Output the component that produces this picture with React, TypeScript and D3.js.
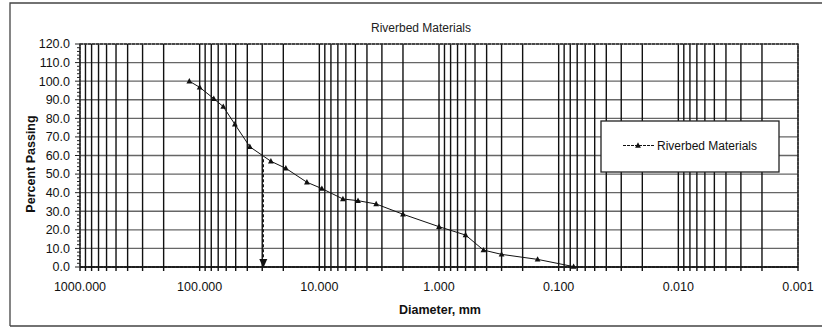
import React from "react";
import * as d3 from "d3";

const diameters = [122, 100, 76.2, 63.5, 50.8, 38.1, 25.4, 19.05, 12.7, 9.525, 6.35, 4.75, 3.35, 2.0, 1.0, 0.6, 0.425, 0.3, 0.15, 0.075];
const percentPassing = [100, 96.7, 90.6, 86.3, 76.8, 64.7, 56.9, 53.1, 45.6, 42.2, 36.6, 35.7, 33.9, 28.4, 21.7, 17.2, 9.1, 6.8, 4.1, 0.2];
const xTickValues = [1000, 100, 10, 1, 0.1, 0.01, 0.001];
const xTickLabels = ["1000.000", "100.000", "10.000", "1.000", "0.100", "0.010", "0.001"];
const yTickValues = [0, 10, 20, 30, 40, 50, 60, 70, 80, 90, 100, 110, 120];
const arrowDiameter = [29.4];
const arrowPercent = [58];
const title = "Riverbed Materials";
const seriesName = "Riverbed Materials";
const xTitle = "Diameter, mm";
const yTitle = "Percent Passing";

const W = 822, H = 329;
const L = 80, R = 798, T = 44, B = 267;
const FONT = "'Liberation Sans', Arial, sans-serif";

export default function App() {
  const x = d3.scaleLog().domain([1000, 0.001]).range([L, R]);
  const y = d3.scaleLinear().domain([0, 120]).range([B, T]);

  const minor: number[] = [];
  for (let e = -3; e < 3; e++) {
    for (let m = 1; m <= 9; m++) minor.push(m * Math.pow(10, e));
  }
  minor.push(1000);
  const yMinor = d3.range(0, 121, 2);

  const line = d3.line<number>()
    .x((_, i) => x(diameters[i]))
    .y((d) => y(d));

  const tri = (cx: number, cy: number, s: number) =>
    `M${cx},${cy - s}L${cx + s * 0.9},${cy + s * 0.7}L${cx - s * 0.9},${cy + s * 0.7}Z`;

  const ax = x(arrowDiameter[0]);
  const ay = y(arrowPercent[0]);

  return (
    <svg width={W} height={H} style={{ position: "absolute", left: 0, top: 0, background: "#fff" }} fontFamily={FONT}>
      <rect x={W * 0} y={0} width={W} height={H} fill="#fff" />
      {/* outer frame */}
      <path d={`M10,326 L10,3 L830,3 M10,326 L830,326`} fill="none" stroke="#444" strokeWidth={1.3} />
      <text x={421} y={32} textAnchor="middle" fontSize={12} fill="#222">{title}</text>

      {/* horizontal grid */}
      {yTickValues.map((v) => (
        <line key={"h" + v} x1={L} x2={R} y1={y(v)} y2={y(v)} stroke="#666" strokeWidth={1.4} />
      ))}
      {/* vertical grid */}
      {minor.map((v, i) => (
        <line key={"v" + i} x1={x(v)} x2={x(v)} y1={T} y2={B + 4} stroke="#111" strokeWidth={1.4} />
      ))}
      {/* plot border */}
      <rect x={L} y={T} width={R - L} height={B - T} fill="none" stroke="#333" strokeWidth={1.3} strokeDasharray="3 1" />
      <line x1={L} x2={R} y1={B} y2={B} stroke="#111" strokeWidth={1.6} />
      {/* y minor ticks */}
      {yMinor.map((v) => (
        <line key={"ym" + v} x1={L - (v % 10 === 0 ? 5 : 3)} x2={L} y1={y(v)} y2={y(v)} stroke="#222" strokeWidth={1} />
      ))}
      {/* y labels */}
      {yTickValues.map((v) => (
        <text key={"yl" + v} x={70} y={y(v)} dy="0.35em" textAnchor="end" fontSize={12.5} fill="#111">{v.toFixed(1)}</text>
      ))}
      {/* x labels */}
      {xTickValues.map((v, i) => (
        <text key={"xl" + i} x={x(v)} y={291} textAnchor="middle" fontSize={12.5} fill="#111">{xTickLabels[i]}</text>
      ))}
      <text x={440} y={314} textAnchor="middle" fontSize={12.5} fontWeight="bold" fill="#111">{xTitle}</text>
      <text transform={`translate(35,${164}) rotate(-90)`} textAnchor="middle" fontSize={12.5} fontWeight="bold" fill="#111">{yTitle}</text>

      {/* arrow */}
      <line x1={ax} x2={ax} y1={ay} y2={B - 6} stroke="#111" strokeWidth={1.3} strokeDasharray="3 2" />
      <path d={`M${ax - 4},${B - 8}L${ax + 4},${B - 8}L${ax},${B + 1}Z`} fill="#111" />

      {/* series */}
      <path d={line(percentPassing) || ""} fill="none" stroke="#111" strokeWidth={1} />
      {percentPassing.map((p, i) => (
        <path key={"m" + i} d={tri(x(diameters[i]), y(p), 3.2)} fill="#111" />
      ))}

      {/* legend */}
      <rect x={601} y={121} width={178} height={51} fill="#fff" stroke="#222" strokeWidth={1.3} />
      <line x1={623} x2={654} y1={145.5} y2={145.5} stroke="#111" strokeWidth={1} strokeDasharray="3 1" />
      <path d={tri(638, 145.5, 3.2)} fill="#111" />
      <text x={657} y={145.5} dy="0.35em" fontSize={12} fill="#111">{seriesName}</text>
    </svg>
  );
}
